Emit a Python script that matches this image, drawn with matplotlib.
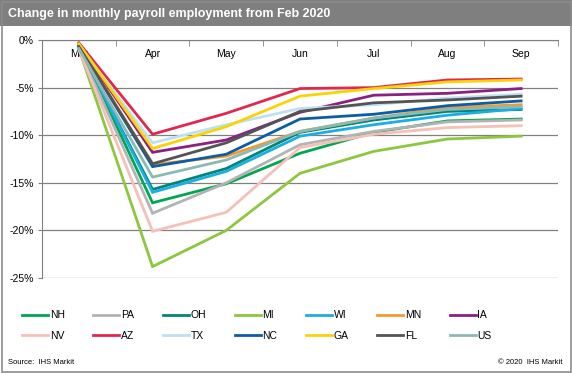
import matplotlib.pyplot as plt
from matplotlib.patches import Rectangle

plt.rcParams['font.family'] = ['Liberation Sans', 'DejaVu Sans']

months = ['Mar', 'Apr', 'May', 'Jun', 'Jul', 'Aug', 'Sep']

# % change in payroll employment vs Feb 2020
NH = [-0.6, -17.1, -15.1, -11.9, -9.7, -8.5, -8.3]
PA = [-0.8, -18.2, -15.0, -11.0, -9.6, -8.6, -8.4]
OH = [-0.7, -15.7, -13.5, -9.7, -8.4, -7.5, -7.3]
MI = [-0.9, -23.8, -20.0, -14.0, -11.7, -10.4, -10.1]
WI = [-0.6, -16.0, -13.8, -10.1, -8.9, -7.9, -7.2]
MN = [-0.5, -13.1, -12.2, -9.6, -8.2, -7.1, -6.8]
IA = [-0.4, -11.8, -10.5, -7.6, -5.8, -5.6, -5.1]
NV = [-1.0, -20.1, -18.1, -11.3, -9.9, -9.2, -9.0]
AZ = [-0.3, -9.9, -7.7, -5.1, -5.0, -4.2, -4.1]
TX = [-0.5, -10.8, -8.9, -7.2, -6.8, -6.1, -5.7]
NC = [-0.6, -13.3, -12.0, -8.3, -7.8, -6.9, -6.4]
GA = [-0.4, -11.4, -9.1, -5.9, -5.1, -4.4, -4.2]
FL = [-0.7, -13.0, -10.8, -7.5, -6.6, -6.3, -5.9]
US = [-0.9, -14.4, -12.6, -9.6, -8.2, -7.3, -7.0]

series = [
    ('NH', NH, '#00a651'), ('PA', PA, '#b3b3b3'), ('OH', OH, '#00857a'),
    ('MI', MI, '#8dc63f'), ('WI', WI, '#1baee3'), ('MN', MN, '#f39a2b'),
    ('IA', IA, '#8b1f84'), ('NV', NV, '#f5c0b8'), ('AZ', AZ, '#e0284f'),
    ('TX', TX, '#bfe0f2'), ('NC', NC, '#0a5da6'), ('GA', GA, '#f9d308'),
    ('FL', FL, '#545454'), ('US', US, '#8db9b5'),
]

W, H = 572, 373
fig = plt.figure(figsize=(W / 100, H / 100), dpi=100)

# title bar + frame
fig.patches.append(Rectangle((0, 1 - 26 / H), 1, 26 / H, transform=fig.transFigure,
                             facecolor='#7f7f7f', edgecolor='none', zorder=0))
fig.patches.append(Rectangle((1.5 / W, 1.5 / H), 1 - 3 / W, 1 - 3 / H, transform=fig.transFigure,
                             facecolor='none', edgecolor='#8c8c8c', lw=1.2, zorder=1))
fig.text(8 / W, 1 - 14 / H, 'Change in monthly payroll employment from Feb 2020',
         color='white', fontsize=9, fontweight='bold', va='center', ha='left')

ax = fig.add_axes([42 / W, 1 - 278 / H, (558 - 42) / W, (278 - 40) / H])
x = list(range(len(months)))
handles = {}
for name, vals, col in series:
    ln, = ax.plot(x, vals, color=col, lw=2, solid_joinstyle='miter')
    handles[name] = ln

ax.set_xlim(-0.5, len(months) - 0.5)
ax.set_ylim(-25, 0)
ax.set_yticks([0, -5, -10, -15, -20, -25])
ax.set_yticklabels([f'{v}%' for v in [0, -5, -10, -15, -20, -25]], fontsize=7.5)
ax.yaxis.grid(True, color='#808080', lw=0.9)
ax.set_axisbelow(True)

ax.set_xticks(x)
ax.set_xticklabels(months, fontsize=7.5)
ax.set_xticks([i - 0.5 for i in range(len(months) + 1)], minor=True)
ax.tick_params(axis='x', which='major', top=True, labeltop=True, bottom=False,
               labelbottom=False, length=0, pad=-14)
ax.tick_params(axis='x', which='minor', top=True, bottom=False, direction='in',
               length=4, color='#808080')
ax.tick_params(axis='y', length=3, color='#808080', pad=3)
for s in ['right', 'bottom']:
    ax.spines[s].set_visible(False)
ax.spines['top'].set_color('#808080')
ax.spines['left'].set_color('#808080')

# legend, filled row by row
names = [s[0] for s in series]
order = []
for c in range(7):
    order += [names[c], names[c + 7]]
fig.legend([handles[n] for n in order], order, ncol=7, frameon=False,
           loc='upper left', bbox_to_anchor=(18 / W, 1 - 306 / H),
           fontsize=7.5, handlelength=2.5, handletextpad=0.15,
           columnspacing=2.75, labelspacing=1.0, borderaxespad=0)

fig.text(8 / W, 1 - 362 / H, 'Source:  IHS Markit', fontsize=5.5, va='center', ha='left')
fig.text(563 / W, 1 - 362 / H, '\u00a9 2020  IHS Markit', fontsize=5.5, va='center', ha='right')

fig.savefig('out.png', dpi=100)
